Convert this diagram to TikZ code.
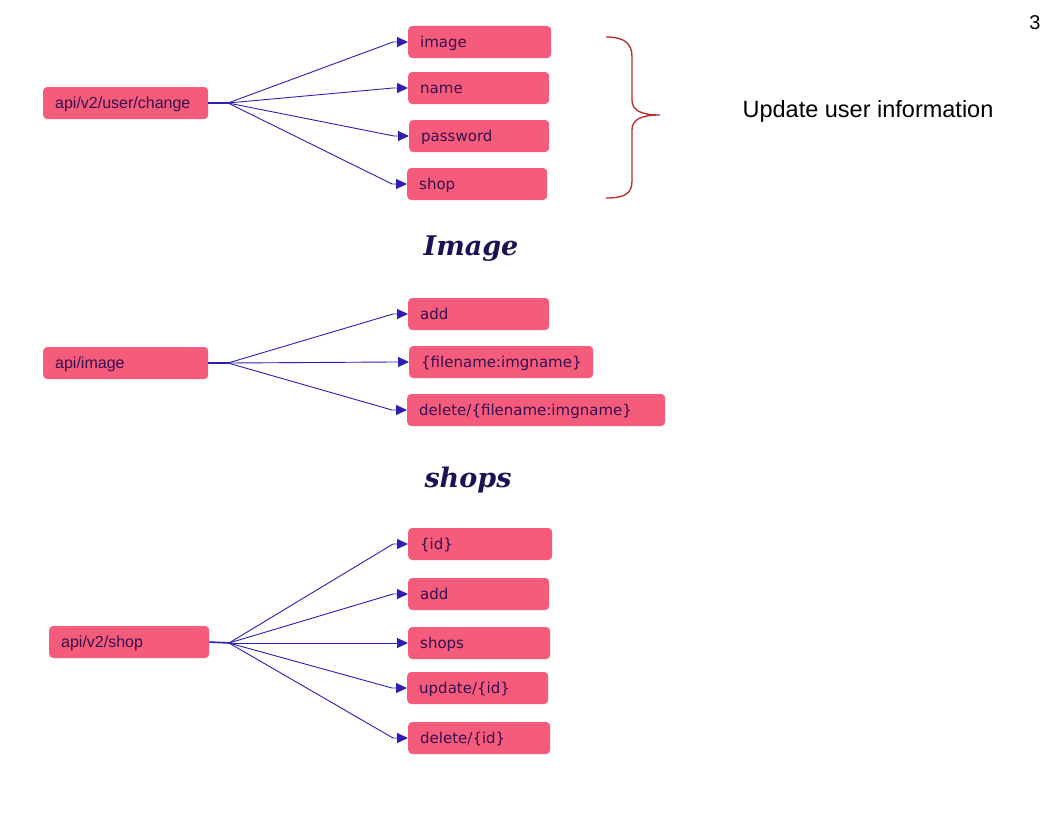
\documentclass[tikz,border=0pt]{standalone}
\usepackage{fontspec}
\setmainfont{Liberation Sans}
\newfontfamily\leaffont{DejaVu Sans}
\newfontfamily\headfont{DejaVu Serif}
\usetikzlibrary{arrows.meta}

\definecolor{boxpink}{HTML}{F55B7B}
\definecolor{boxtext}{HTML}{35104F}
\definecolor{linkblue}{HTML}{2A1FB5}
\definecolor{bracered}{HTML}{B22A2A}
\definecolor{headnavy}{HTML}{1A1255}

\begin{document}
\begin{tikzpicture}[x=1pt,y=-1pt,
		box/.style={rectangle, rounded corners=4pt, fill=boxpink, text=boxtext, minimum height=32pt, inner xsep=12pt, inner ysep=0pt, anchor=west, align=left, text height=11pt, text depth=0pt},
		rootbox/.style={box, font=\fontsize{16}{19}\selectfont},
		leafbox/.style={box, font=\leaffont\fontsize{15}{18}\selectfont},
		link/.style={draw=linkblue, line width=0.9pt, -{Triangle[length=11pt,width=10pt]}},
		stem/.style={draw=linkblue, line width=1.6pt},
		heading/.style={text=headnavy, font=\headfont\bfseries\itshape\fontsize{27}{32}\selectfont}]

			\useasboundingbox (0,0) rectangle (1056,816);

			% user / change
			\node[rootbox, text width=141pt] (userchange) at (43,103) {api/v2/user/change};
			\coordinate (juser) at (228,103);

			\node[leafbox, text width=119pt] (uimage) at (408,42) {image};
			\node[leafbox, text width=117pt] (uname) at (408,88) {name};
			\node[leafbox, text width=116pt] (upassword) at (409,136) {password};
			\node[leafbox, text width=116pt] (ushop) at (407,184) {shop};

			\draw[stem] (userchange.east) -- (juser);
			\draw[link] (juser) -- ([xshift=-15pt]uimage.west) -- (uimage.west);
			\draw[link] (juser) -- ([xshift=-15pt]uname.west) -- (uname.west);
			\draw[link] (juser) -- ([xshift=-15pt]upassword.west) -- (upassword.west);
			\draw[link] (juser) -- ([xshift=-15pt]ushop.west) -- (ushop.west);

			\draw[bracered, line width=1.3pt] (606,37) .. controls (624,37) and (632,43) .. (632,57) -- (632,100) .. controls (632,110) and (640,115) .. (660,115) .. controls (640,115) and (632,120) .. (632,130) -- (632,181) .. controls (632,194) and (624,198) .. (606,198);

			\node[text=black, font=\fontsize{23.5}{28}\selectfont] (update) at (868,111) {Update user information};
			\node[text=black, font=\fontsize{20}{24}\selectfont] (pagenum) at (1035,23) {3};

			% image
			\node[heading] (imagehead) at (471,249) {Image};

			\node[rootbox, text width=141pt] (apiimage) at (43,363) {api/image};
			\coordinate (jimage) at (228,363);

			\node[leafbox, text width=117pt] (iadd) at (408,314) {add};
			\node[leafbox, text width=160pt] (ifile) at (409,362) {\{filename:imgname\}};
			\node[leafbox, text width=234pt] (idelete) at (407,410) {delete/\{filename:imgname\}};

			\draw[stem] (apiimage.east) -- (jimage);
			\draw[link] (jimage) -- ([xshift=-15pt]iadd.west) -- (iadd.west);
			\draw[link] (jimage) -- ([xshift=-15pt]ifile.west) -- (ifile.west);
			\draw[link] (jimage) -- ([xshift=-15pt]idelete.west) -- (idelete.west);

			% shops
			\node[heading] (shophead) at (468,480) {shops};

			\node[rootbox, text width=136pt] (apishop) at (49,642) {api/v2/shop};
			\coordinate (jshop) at (229,643);

			\node[leafbox, text width=120pt] (sid) at (408,544) {\{id\}};
			\node[leafbox, text width=117pt] (sadd) at (408,594) {add};
			\node[leafbox, text width=118pt] (sshops) at (408,643) {shops};
			\node[leafbox, text width=117pt] (supdate) at (407,688) {update/\{id\}};
			\node[leafbox, text width=118pt] (sdelete) at (408,738) {delete/\{id\}};

			\draw[stem] (apishop.east) -- (jshop);
			\draw[link] (jshop) -- ([xshift=-15pt]sid.west) -- (sid.west);
			\draw[link] (jshop) -- ([xshift=-15pt]sadd.west) -- (sadd.west);
			\draw[link] (jshop) -- (sshops.west);
			\draw[link] (jshop) -- ([xshift=-15pt]supdate.west) -- (supdate.west);
			\draw[link] (jshop) -- ([xshift=-15pt]sdelete.west) -- (sdelete.west);

	\end{tikzpicture}
\end{document}
